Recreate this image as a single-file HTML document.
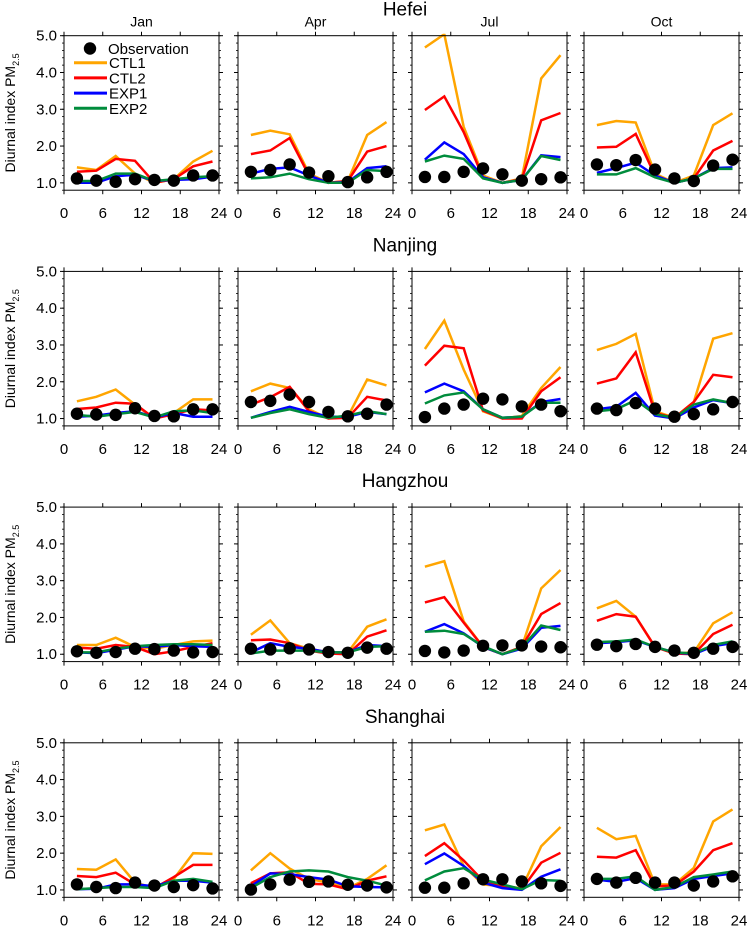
<!DOCTYPE html>
<html><head><meta charset="utf-8">
<style>
body{margin:0;background:#fff;}
svg{display:block;font-family:"Liberation Sans",sans-serif;}
</style></head>
<body>
<svg id="chart" width="751" height="928" viewBox="0 0 751 928" xmlns="http://www.w3.org/2000/svg"></svg>
<script>
const cities = ["Hefei","Nanjing","Hangzhou","Shanghai"];
const months = ["Jan","Apr","Jul","Oct"];
const hours = [2,5,8,11,14,17,20,23];
const xTicks = [0,6,12,18,24];
const yTicks = [1.0,2.0,3.0,4.0,5.0];
const seriesNames = ["CTL1","CTL2","EXP1","EXP2"];
const seriesColors = ["#ffa500","#ff0000","#0000ff","#008c3c"];
// obs[city][month]
const obs = [
 [[1.12,1.06,1.03,1.1,1.08,1.06,1.2,1.2],[1.3,1.35,1.5,1.28,1.18,1.02,1.15,1.3],[1.16,1.16,1.3,1.39,1.23,1.06,1.1,1.15],[1.5,1.48,1.62,1.36,1.12,1.05,1.47,1.63]],
 [[1.13,1.11,1.1,1.28,1.07,1.06,1.25,1.25],[1.45,1.48,1.65,1.45,1.18,1.06,1.13,1.38],[1.04,1.27,1.38,1.54,1.52,1.33,1.38,1.2],[1.27,1.23,1.42,1.27,1.05,1.12,1.25,1.45]],
 [[1.08,1.04,1.06,1.15,1.14,1.1,1.05,1.06],[1.15,1.13,1.16,1.13,1.06,1.04,1.18,1.15],[1.09,1.05,1.1,1.23,1.24,1.24,1.21,1.19],[1.26,1.22,1.28,1.2,1.1,1.04,1.15,1.2]],
 [[1.15,1.08,1.05,1.2,1.12,1.08,1.13,1.04],[1.01,1.15,1.28,1.22,1.23,1.14,1.12,1.07],[1.06,1.06,1.18,1.29,1.29,1.23,1.18,1.11],[1.3,1.2,1.33,1.2,1.2,1.12,1.23,1.37]]
];
const ctl1 = [
 [[1.42,1.35,1.73,1.25,1.0,1.1,1.58,1.87],[2.3,2.42,2.32,1.25,1.0,1.05,2.3,2.65],[4.68,5.04,2.52,1.2,1.0,1.12,3.84,4.47],[2.57,2.68,2.64,1.25,1.0,1.2,2.57,2.89]],
 [[1.47,1.59,1.79,1.38,1.0,1.15,1.52,1.52],[1.74,1.95,1.83,1.25,1.0,1.05,2.06,1.9],[2.89,3.66,2.33,1.2,1.0,1.07,1.83,2.4],[2.86,3.03,3.3,1.2,1.02,1.45,3.17,3.32]],
 [[1.25,1.25,1.45,1.2,1.15,1.25,1.35,1.37],[1.53,1.92,1.3,1.15,1.05,1.05,1.75,1.95],[3.38,3.53,1.89,1.2,1.0,1.2,2.79,3.29],[2.25,2.45,2.02,1.2,1.02,1.05,1.84,2.14]],
 [[1.57,1.55,1.83,1.2,1.05,1.3,2.0,1.98],[1.53,2.0,1.58,1.3,1.2,1.05,1.3,1.67],[2.62,2.78,1.65,1.15,1.1,1.05,2.19,2.71],[2.69,2.38,2.47,1.15,1.15,1.6,2.86,3.19]]
];
const ctl2 = [
 [[1.3,1.33,1.65,1.6,1.0,1.1,1.45,1.58],[1.78,1.88,2.22,1.2,1.0,1.05,1.85,2.0],[2.98,3.35,2.38,1.15,1.0,1.1,2.7,2.9],[1.96,1.98,2.33,1.2,1.0,1.12,1.88,2.14]],
 [[1.26,1.3,1.43,1.4,1.0,1.12,1.25,1.22],[1.38,1.58,1.86,1.2,1.0,1.02,1.59,1.49],[2.44,2.98,2.91,1.22,1.0,1.0,1.74,2.12],[1.95,2.09,2.8,1.15,1.02,1.45,2.19,2.12]],
 [[1.18,1.15,1.25,1.2,1.0,1.08,1.2,1.3],[1.38,1.4,1.3,1.1,1.02,1.0,1.48,1.65],[2.41,2.55,1.86,1.2,1.0,1.2,2.09,2.39],[1.91,2.09,2.02,1.2,1.02,1.0,1.55,1.8]],
 [[1.38,1.35,1.47,1.15,1.05,1.35,1.68,1.68],[1.18,1.45,1.48,1.17,1.15,1.02,1.25,1.37],[1.92,2.27,1.8,1.25,1.1,1.02,1.74,2.01],[1.9,1.88,2.08,1.1,1.12,1.5,2.08,2.27]]
];
const exp1 = [
 [[1.0,1.0,1.18,1.22,1.05,1.08,1.1,1.17],[1.25,1.38,1.42,1.2,1.0,1.02,1.4,1.45],[1.63,2.1,1.78,1.15,1.0,1.08,1.75,1.7],[1.27,1.4,1.55,1.2,1.0,1.12,1.4,1.42]],
 [[1.05,1.08,1.15,1.2,1.03,1.15,1.05,1.05],[1.02,1.18,1.32,1.18,1.05,1.05,1.18,1.12],[1.71,1.95,1.74,1.25,1.02,1.05,1.45,1.53],[1.25,1.32,1.7,1.08,1.0,1.3,1.5,1.42]],
 [[1.05,1.03,1.12,1.22,1.2,1.25,1.22,1.2],[1.05,1.3,1.2,1.15,1.05,1.05,1.25,1.22],[1.61,1.82,1.57,1.2,1.0,1.15,1.72,1.77],[1.3,1.33,1.38,1.2,1.05,1.0,1.22,1.3]],
 [[1.02,1.03,1.15,1.15,1.1,1.25,1.25,1.2],[1.1,1.45,1.43,1.35,1.28,1.1,1.08,1.07],[1.7,1.99,1.65,1.2,1.05,1.0,1.36,1.56],[1.28,1.22,1.32,1.0,1.05,1.3,1.38,1.45]]
];
const exp2 = [
 [[1.05,1.05,1.25,1.25,1.05,1.1,1.15,1.18],[1.12,1.15,1.25,1.1,1.0,1.0,1.35,1.32],[1.58,1.74,1.65,1.12,1.0,1.08,1.73,1.62],[1.23,1.23,1.4,1.15,1.0,1.12,1.38,1.38]],
 [[1.1,1.05,1.12,1.18,1.03,1.2,1.22,1.15],[1.02,1.15,1.25,1.12,1.02,1.08,1.2,1.12],[1.41,1.63,1.71,1.25,1.02,1.05,1.43,1.43],[1.2,1.25,1.5,1.12,1.02,1.38,1.52,1.42]],
 [[1.05,1.05,1.15,1.22,1.25,1.27,1.27,1.25],[1.02,1.1,1.1,1.1,1.05,1.05,1.2,1.22],[1.61,1.64,1.55,1.22,1.0,1.18,1.78,1.66],[1.33,1.35,1.4,1.2,1.05,1.02,1.25,1.35]],
 [[1.02,1.05,1.08,1.08,1.05,1.25,1.3,1.22],[1.05,1.35,1.5,1.53,1.5,1.35,1.25,1.12],[1.26,1.5,1.59,1.28,1.15,1.02,1.27,1.25],[1.3,1.3,1.37,1.0,1.08,1.35,1.42,1.5]]
];
const allSeries = [ctl1,ctl2,exp1,exp2];

const NS="http://www.w3.org/2000/svg";
const svg=document.getElementById('chart');
function mk(tag,attrs,parent){const e=document.createElementNS(NS,tag);for(const k in attrs)e.setAttribute(k,attrs[k]);(parent||svg).appendChild(e);return e;}
const colLeft=[64,238,412,584];
const PW=155;
const rowTop=[35.7,271.4,507.1,742.8];
const YMIN=0.8,YMAX=5.0,PH=154.5;
function xs(c,h){return colLeft[c]+h/24*PW;}
function ys(r,v){return rowTop[r]+(YMAX-v)/(YMAX-YMIN)*PH;}

for(let r=0;r<4;r++){
  const t=mk('text',{x:405,y:rowTop[r]-20,'text-anchor':'middle','font-size':19,fill:'#000'});
  t.textContent=cities[r];
  
  
  const yt=mk('text',{transform:`translate(15,${rowTop[r]+PH/2}) rotate(-90)`,'text-anchor':'middle','font-size':14,fill:'#000'});
  yt.innerHTML='Diurnal index PM<tspan font-size="9" dy="4">2.5</tspan>';
  
  
  for(let c=0;c<4;c++){
    const g=mk('g',{});
    
    
    const L=colLeft[c],T=rowTop[r];
    if(r===0){
      const mt=mk('text',{x:L+PW/2,y:T-9,'text-anchor':'middle','font-size':14,fill:'#000'},g);
      mt.textContent=months[c];
      
      
    }
    // minor y ticks
    for(let v=YMIN;v<=YMAX+0.001;v+=0.2){
      const y=ys(r,v);
      mk('line',{x1:L-2,x2:L,y1:y,y2:y,stroke:'#000','stroke-width':0.8},g);
      mk('line',{x1:L+PW,x2:L+PW+2,y1:y,y2:y,stroke:'#000','stroke-width':0.8},g);
    }
    yTicks.forEach(v=>{
      const y=ys(r,v);
      mk('line',{x1:L-4,x2:L,y1:y,y2:y,stroke:'#000','stroke-width':1},g);
      mk('line',{x1:L+PW,x2:L+PW+4,y1:y,y2:y,stroke:'#000','stroke-width':1},g);
      if(c===0){const tl=mk('text',{x:L-7,y:y+5,'text-anchor':'end','font-size':15,fill:'#000'},g);tl.textContent=v.toFixed(1);
        
        }
    });
    xTicks.forEach(h=>{
      const x=xs(c,h);
      mk('line',{x1:x,x2:x,y1:T-4,y2:T,stroke:'#000','stroke-width':1},g);
      mk('line',{x1:x,x2:x,y1:T+PH,y2:T+PH+4,stroke:'#000','stroke-width':1},g);
      const xl=mk('text',{x:x,y:T+PH+28,'text-anchor':'middle','font-size':15,fill:'#000'},g);
      xl.textContent=h;
      
      
    });
    const cp='clip'+r+c;
    const cl=mk('clipPath',{id:cp},g);mk('rect',{x:L,y:T-2,width:PW,height:PH+2},cl);
    allSeries.forEach((s,si)=>{
      const pts=hours.map((h,i)=>xs(c,h).toFixed(1)+','+ys(r,s[r][c][i]).toFixed(1)).join(' ');
      const pl=mk('polyline',{points:pts,fill:'none',stroke:seriesColors[si],'stroke-width':2.5,'clip-path':`url(#${cp})`},g);
      
      
    });
    hours.forEach((h,i)=>{
      const d=mk('circle',{cx:xs(c,h),cy:ys(r,obs[r][c][i]),r:6.2,fill:'#000'},g);
      
      
    });
    mk('rect',{x:L,y:T,width:PW,height:PH,fill:'none',stroke:'#000','stroke-width':1},g);
  }
}
// legend
const lg=mk('g',{});


mk('circle',{cx:90,cy:48.5,r:6.2,fill:'#000'},lg);
const ot=mk('text',{x:108,y:54,'font-size':15,fill:'#000'},lg);ot.textContent='Observation';


seriesNames.forEach((n,i)=>{
  const y=62.7+i*15.2;
  mk('line',{x1:74,x2:107,y1:y,y2:y,stroke:seriesColors[i],'stroke-width':3},lg);
  const t=mk('text',{x:109,y:y+5.5,'font-size':15,fill:'#000'},lg);t.textContent=n;
  
  
});
</script>
</body></html>
